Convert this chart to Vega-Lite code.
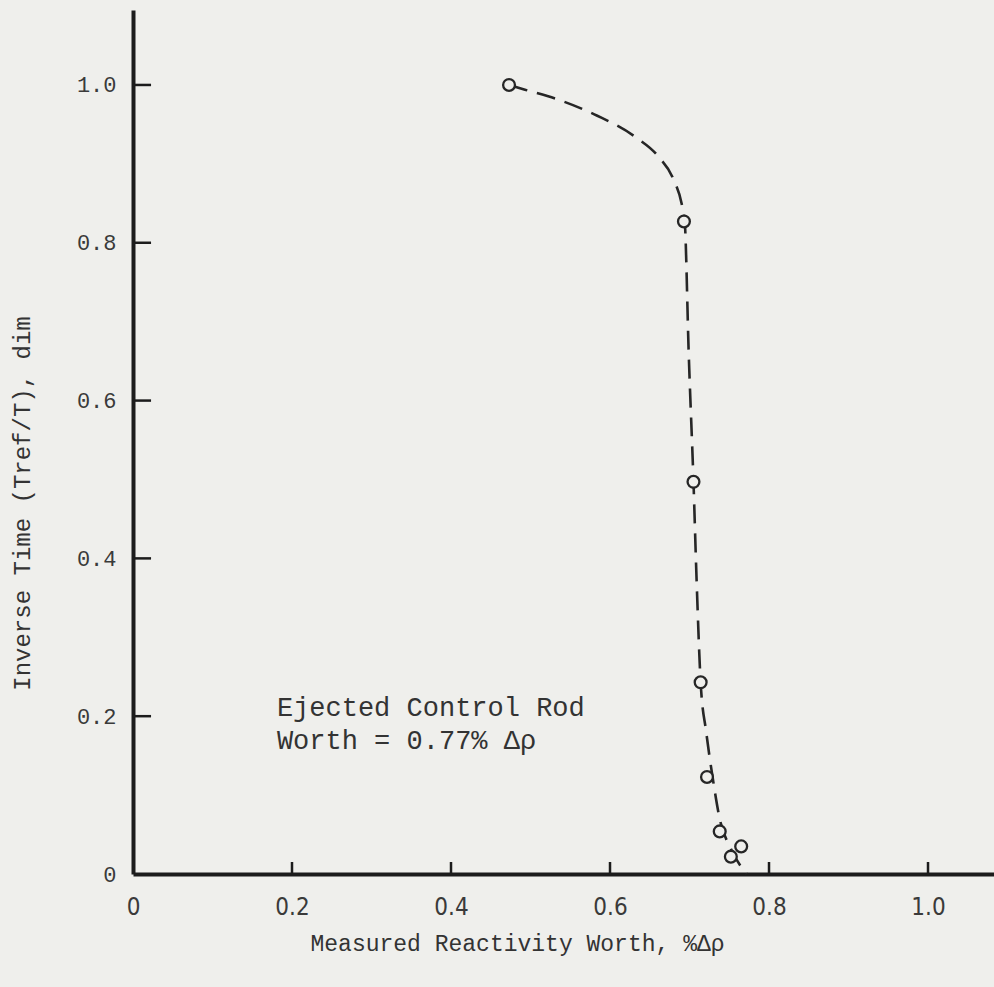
{
  "$schema": "https://vega.github.io/schema/vega-lite/v6.json",
  "width": 861,
  "height": 864,
  "autosize": {"type": "none"},
  "padding": {"left": 133, "top": 10, "right": 0, "bottom": 113},
  "background": "#efefec",
  "config": {"view": {"stroke": null}},
  "datasets": {
    "curve": [
      {"i": 1, "x": 0.473, "y": 1.0},
      {"i": 2, "x": 0.493, "y": 0.994},
      {"i": 3, "x": 0.536, "y": 0.981},
      {"i": 4, "x": 0.584, "y": 0.961},
      {"i": 5, "x": 0.632, "y": 0.934},
      {"i": 6, "x": 0.661, "y": 0.909},
      {"i": 7, "x": 0.680, "y": 0.880},
      {"i": 8, "x": 0.690, "y": 0.850},
      {"i": 9, "x": 0.694, "y": 0.827},
      {"i": 10, "x": 0.699, "y": 0.66},
      {"i": 11, "x": 0.705, "y": 0.497},
      {"i": 12, "x": 0.709, "y": 0.37},
      {"i": 13, "x": 0.714, "y": 0.243},
      {"i": 14, "x": 0.721, "y": 0.18},
      {"i": 15, "x": 0.729, "y": 0.123},
      {"i": 16, "x": 0.738, "y": 0.07},
      {"i": 17, "x": 0.752, "y": 0.032},
      {"i": 18, "x": 0.772, "y": 0.0}
    ],
    "points": [
      {"x": 0.473, "y": 1.0},
      {"x": 0.693, "y": 0.827},
      {"x": 0.705, "y": 0.497},
      {"x": 0.714, "y": 0.243},
      {"x": 0.722, "y": 0.123},
      {"x": 0.738, "y": 0.054},
      {"x": 0.752, "y": 0.022},
      {"x": 0.765, "y": 0.035}
    ],
    "xticks": [{"v": 0.2}, {"v": 0.4}, {"v": 0.6}, {"v": 0.8}, {"v": 1.0}],
    "yticks": [{"v": 0.2}, {"v": 0.4}, {"v": 0.6}, {"v": 0.8}, {"v": 1.0}],
    "notes": [
      {"label": "Ejected Control Rod\nWorth = 0.77% Δρ"}
    ]
  },
  "layer": [
    {
      "data": {"name": "curve"},
      "mark": {"type": "line", "interpolate": "monotone", "strokeDash": [19, 10], "strokeWidth": 2.6, "color": "#262626"},
      "encoding": {
        "x": {
          "field": "x", "type": "quantitative",
          "scale": {"domain": [0, 1.083], "nice": false, "zero": false},
          "axis": {
            "values": [0, 0.2, 0.4, 0.6, 0.8, 1.0],
            "labelExpr": "datum.value == 0 ? '0' : format(datum.value, '.1f')",
            "grid": false, "ticks": false,
            "domainColor": "#1c1c1c", "domainWidth": 4,
            "labelFont": "Liberation Sans Narrow, DejaVu Sans Condensed, Liberation Mono",
            "labelFontSize": 24, "labelColor": "#3a3a3a", "labelPadding": 21,
            "labelFlush": false,
            "title": "Measured Reactivity Worth, %Δρ",
            "titleFont": "Liberation Mono", "titleFontSize": 23, "titleFontWeight": "normal",
            "titleColor": "#333333", "titleX": 384, "titleY": 69, "titleAlign": "center", "titleBaseline": "middle"
          }
        },
        "y": {
          "field": "y", "type": "quantitative",
          "scale": {"domain": [0, 1.095], "nice": false, "zero": false},
          "axis": {
            "values": [0, 0.2, 0.4, 0.6, 0.8, 1.0],
            "labelExpr": "datum.value == 0 ? '0' : format(datum.value, '.1f')",
            "grid": false, "ticks": false,
            "domainColor": "#1c1c1c", "domainWidth": 4,
            "labelFont": "Liberation Mono",
            "labelFontSize": 22, "labelColor": "#3a3a3a", "labelPadding": 17,
            "labelFlush": false,
            "title": "Inverse Time (Tref/T), dim",
            "titleFont": "Liberation Mono", "titleFontSize": 24, "titleFontWeight": "normal",
            "titleColor": "#333333", "titleX": -111, "titleY": 493, "titleAlign": "center", "titleBaseline": "middle", "titleAngle": -90
          }
        },
        "order": {"field": "i", "type": "quantitative"}
      }
    },
    {
      "data": {"name": "xticks"},
      "mark": {"type": "rule", "color": "#1c1c1c", "strokeWidth": 2.5},
      "encoding": {
        "x": {"field": "v", "type": "quantitative"},
        "y": {"datum": 0, "type": "quantitative"},
        "y2": {"datum": 0.0152}
      }
    },
    {
      "data": {"name": "yticks"},
      "mark": {"type": "rule", "color": "#1c1c1c", "strokeWidth": 2.5},
      "encoding": {
        "y": {"field": "v", "type": "quantitative"},
        "x": {"datum": 0, "type": "quantitative"},
        "x2": {"datum": 0.0227}
      }
    },
    {
      "data": {"name": "points"},
      "mark": {"type": "point", "shape": "circle", "size": 140, "fill": "#efefec", "fillOpacity": 1, "stroke": "#262626", "strokeWidth": 2.3, "opacity": 1},
      "encoding": {
        "x": {"field": "x", "type": "quantitative"},
        "y": {"field": "y", "type": "quantitative"}
      }
    },
    {
      "data": {"name": "notes"},
      "mark": {"type": "text", "align": "left", "baseline": "alphabetic", "font": "Liberation Mono", "fontSize": 27, "lineHeight": 33, "lineBreak": "\n", "color": "#333333"},
      "encoding": {
        "x": {"datum": 0.181, "type": "quantitative"},
        "y": {"datum": 0.2, "type": "quantitative"},
        "text": {"field": "label"}
      }
    }
  ]
}
